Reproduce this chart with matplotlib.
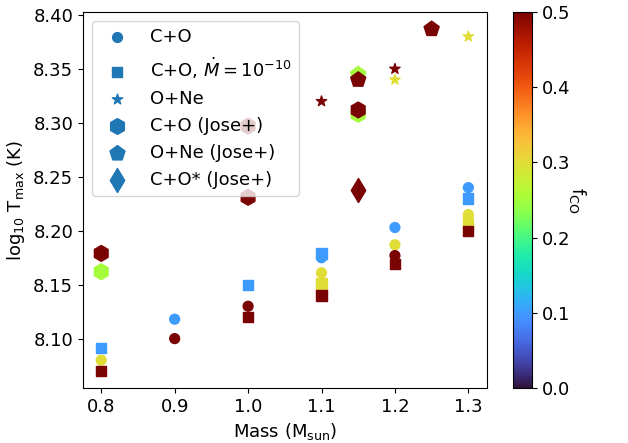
import numpy as np
import matplotlib
matplotlib.use("Agg")
import matplotlib.pyplot as plt

# circles: C+O
co_mass = [0.8, 0.9, 0.9, 1.0, 1.1, 1.1, 1.1, 1.2, 1.2, 1.2, 1.3, 1.3, 1.3]
co_logT = [8.080, 8.118, 8.100, 8.130, 8.175, 8.161, 8.149, 8.203, 8.187, 8.177, 8.240, 8.215, 8.211]
co_f = [0.3, 0.1, 0.5, 0.5, 0.1, 0.3, 0.5, 0.1, 0.3, 0.5, 0.1, 0.3, 0.3]

# squares: C+O, Mdot = 1e-10
sq_mass = [0.8, 0.8, 1.0, 1.0, 1.1, 1.1, 1.1, 1.2, 1.3, 1.3, 1.3]
sq_logT = [8.091, 8.070, 8.150, 8.120, 8.179, 8.151, 8.140, 8.169, 8.230, 8.206, 8.200]
sq_f = [0.1, 0.5, 0.1, 0.5, 0.1, 0.3, 0.5, 0.5, 0.1, 0.3, 0.5]

# stars: O+Ne
one_mass = [1.1, 1.2, 1.2, 1.3]
one_logT = [8.320, 8.350, 8.340, 8.380]
one_f = [0.5, 0.5, 0.3, 0.3]

# Jose+ comparison models
jco_mass = [0.8, 0.8, 1.0, 1.0, 1.15, 1.15]
jco_logT = [8.179, 8.162, 8.297, 8.231, 8.308, 8.312]
jco_f = [0.5, 0.25, 0.5, 0.5, 0.25, 0.5]

jone_mass = [1.15, 1.15, 1.25]
jone_logT = [8.345, 8.340, 8.387]
jone_f = [0.25, 0.5, 0.5]

jcos_mass = [1.15]
jcos_logT = [8.238]
jcos_f = [0.5]

cmap = "turbo"
vmin, vmax = 0.0, 0.5
fs = 13

fig = plt.figure(figsize=(6.28, 4.43), dpi=100)
ax = fig.add_axes([0.132, 0.124, 0.643, 0.849])
cax = fig.add_axes([0.817, 0.124, 0.030, 0.849])

kw = dict(cmap=cmap, vmin=vmin, vmax=vmax)
ax.scatter(co_mass, co_logT, c=co_f, marker="o", s=50, **kw)
ax.scatter(sq_mass, sq_logT, c=sq_f, marker="s", s=55, **kw)
ax.scatter(one_mass, one_logT, c=one_f, marker="*", s=60, **kw)
ax.scatter(jco_mass, jco_logT, c=jco_f, marker="h", s=130, **kw)
ax.scatter(jone_mass, jone_logT, c=jone_f, marker="p", s=130, **kw)
sc = ax.scatter(jcos_mass, jcos_logT, c=jcos_f, marker="d", s=150, **kw)

# legend handles in default colour
ax.scatter([], [], color="C0", marker="o", s=50, label="C+O")
ax.scatter([], [], color="C0", marker="s", s=55, label=r"C+O, $\dot{M}=10^{-10}$")
ax.scatter([], [], color="C0", marker="*", s=60, label="O+Ne")
ax.scatter([], [], color="C0", marker="h", s=130, label="C+O (Jose+)")
ax.scatter([], [], color="C0", marker="p", s=130, label="O+Ne (Jose+)")
ax.scatter([], [], color="C0", marker="d", s=150, label="C+O* (Jose+)")
ax.legend(loc="upper left", fontsize=fs)

ax.set_xlabel(r"Mass (M$_{\rm sun}$)", fontsize=fs)
ax.set_ylabel(r"log$_{10}$ T$_{\rm max}$ (K)", fontsize=fs)
ax.set_xticks([0.8, 0.9, 1.0, 1.1, 1.2, 1.3])
ax.set_yticks([8.10, 8.15, 8.20, 8.25, 8.30, 8.35, 8.40])
ax.tick_params(labelsize=fs)

cb = fig.colorbar(sc, cax=cax)
cb.set_label(r"f$_{\rm CO}$", rotation=270, labelpad=13, fontsize=fs)
cb.ax.tick_params(labelsize=fs)

fig.savefig("out.png")
